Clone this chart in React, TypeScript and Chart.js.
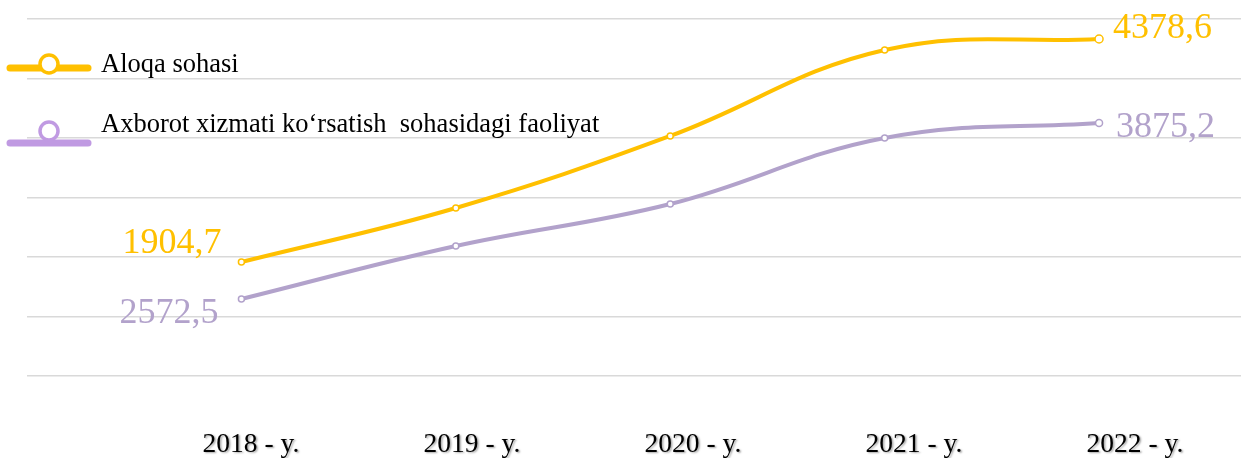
import React, { useEffect, useRef } from "react";
import { Chart, registerables } from "chart.js";

Chart.register(...registerables);

// ---- data ----
const categories = ["2018 - y.", "2019 - y.", "2020 - y.", "2021 - y.", "2022 - y."];
const seriesNames = ["Aloqa sohasi", "Axborot xizmati ko\u2018rsatish  sohasidagi faoliyat"];
const aloqaValues = [958, 1412, 2017, 2740, 2832];
const axborotValues = [647, 1092, 1445, 2000, 2126];
const aloqaEndLabels = ["1904,7", "4378,6"];
const axborotEndLabels = ["2572,5", "3875,2"];
const yMin = 0;
const yMax = 3000;
const yStep = 500;

const SERIF = "'Liberation Serif', 'Times New Roman', serif";
const YELLOW = "#FFC000";
const PURPLE_LINE = "#B2A2CB";
const PURPLE_LEGEND = "#C09AE2";

const legendLayout = [
  { lineY: 68, circleY: 64, textY: 72, color: YELLOW },
  { lineY: 143, circleY: 131, textY: 132, color: PURPLE_LEGEND },
];

const endLabelLayout = [
  {
    color: YELLOW,
    first: { dx: -20, dy: -9, align: "right" as CanvasTextAlign },
    last: { dx: 14, dy: -1, align: "left" as CanvasTextAlign },
  },
  {
    color: PURPLE_LINE,
    first: { dx: -23, dy: 24, align: "right" as CanvasTextAlign },
    last: { dx: 17, dy: 14, align: "left" as CanvasTextAlign },
  },
];

const endLabels = [aloqaEndLabels, axborotEndLabels];

const legendPlugin = {
  id: "customLegend",
  afterDraw(chart: any) {
    const ctx = chart.ctx as CanvasRenderingContext2D;
    chart.data.datasets.forEach((ds: any, i: number) => {
      const l = legendLayout[i];
      if (!l) return;
      ctx.save();
      ctx.strokeStyle = l.color;
      ctx.lineWidth = 7;
      ctx.lineCap = "round";
      ctx.beginPath();
      ctx.moveTo(10, l.lineY);
      ctx.lineTo(88, l.lineY);
      ctx.stroke();
      ctx.beginPath();
      ctx.arc(49, l.circleY, 9, 0, Math.PI * 2);
      ctx.fillStyle = "#ffffff";
      ctx.fill();
      ctx.lineWidth = 3.5;
      ctx.stroke();
      ctx.fillStyle = "#000000";
      ctx.font = `26.5px ${SERIF}`;
      ctx.textAlign = "left";
      ctx.textBaseline = "alphabetic";
      ctx.fillText(ds.label, 101, l.textY);
      ctx.restore();
    });
  },
};

const endLabelPlugin = {
  id: "endLabels",
  afterDatasetsDraw(chart: any) {
    const ctx = chart.ctx as CanvasRenderingContext2D;
    chart.data.datasets.forEach((_ds: any, i: number) => {
      const meta = chart.getDatasetMeta(i);
      const layout = endLabelLayout[i];
      const texts = endLabels[i];
      if (!meta || !layout || !texts) return;
      const pts = meta.data;
      const items = [
        { el: pts[0], cfg: layout.first, text: texts[0] },
        { el: pts[pts.length - 1], cfg: layout.last, text: texts[1] },
      ];
      ctx.save();
      ctx.font = `36px ${SERIF}`;
      ctx.fillStyle = layout.color;
      ctx.textBaseline = "alphabetic";
      items.forEach(({ el, cfg, text }) => {
        if (!el) return;
        ctx.textAlign = cfg.align;
        ctx.fillText(text, el.x + cfg.dx, el.y + cfg.dy);
      });
      ctx.restore();
    });
  },
};

const labelShadowPlugin = {
  id: "labelShadow",
  beforeDraw(chart: any) {
    const sc: any = chart.scales.x2;
    if (sc && !sc.__shadowPatched) {
      const orig = sc.drawLabels.bind(sc);
      sc.drawLabels = (area: any) => {
        const ctx = chart.ctx as CanvasRenderingContext2D;
        ctx.save();
        ctx.shadowColor = "rgba(0,0,0,0.35)";
        ctx.shadowBlur = 2;
        ctx.shadowOffsetX = 1.5;
        ctx.shadowOffsetY = 1.5;
        orig(area);
        ctx.restore();
      };
      sc.__shadowPatched = true;
    }
  },
};

export default function App() {
  const canvasRef = useRef<HTMLCanvasElement | null>(null);

  useEffect(() => {
    document.body.style.margin = "0";
    const canvas = canvasRef.current;
    if (!canvas) return;

    const toPoints = (vals: number[]) => vals.map((v, i) => ({ x: i, y: v }));

    const chart = new Chart(canvas, {
      type: "line",
      data: {
        datasets: [
          {
            label: seriesNames[0],
            data: toPoints(aloqaValues),
            borderColor: YELLOW,
            backgroundColor: "#ffffff",
            borderWidth: 4,
            pointRadius: [3, 3, 3, 3, 4],
            pointBorderWidth: 1.5,
            pointBackgroundColor: "#ffffff",
            pointBorderColor: YELLOW,
            tension: 0.4,
            xAxisID: "x",
            yAxisID: "y",
          },
          {
            label: seriesNames[1],
            data: toPoints(axborotValues),
            borderColor: PURPLE_LINE,
            backgroundColor: "#ffffff",
            borderWidth: 4,
            pointRadius: [3, 3, 3, 3, 3.5],
            pointBorderWidth: 1.5,
            pointBackgroundColor: "#ffffff",
            pointBorderColor: PURPLE_LINE,
            tension: 0.4,
            xAxisID: "x",
            yAxisID: "y",
          },
        ],
      },
      options: {
        responsive: false,
        animation: false,
        devicePixelRatio: 1,
        layout: { autoPadding: false, padding: { left: 27, right: 0, top: 19, bottom: 0 } },
        plugins: {
          legend: { display: false },
          tooltip: { enabled: false },
        },
        scales: {
          x: {
            type: "linear",
            display: false,
            min: -1,
            max: 4.662,
          },
          x2: {
            type: "linear",
            position: "bottom",
            min: -1.0136,
            max: 4.48,
            afterBuildTicks: (scale: any) => {
              scale.ticks = categories.map((_c, i) => ({ value: i }));
            },
            afterFit: (scale: any) => {
              scale.height = 82;
              scale.paddingLeft = 0;
              scale.paddingRight = 0;
            },
            grid: { display: false, drawTicks: false },
            border: { display: false },
            ticks: {
              autoSkip: false,
              maxRotation: 0,
              minRotation: 0,
              padding: 52,
              color: "#000000",
              font: { family: SERIF, size: 27.5 },
              callback: (v: any) => categories[Math.round(Number(v))] ?? "",
            },
          },
          y: {
            type: "linear",
            min: yMin,
            max: yMax,
            afterFit: (scale: any) => {
              scale.width = 0;
              scale.paddingTop = 0;
              scale.paddingBottom = 0;
            },
            ticks: { display: false, stepSize: yStep },
            border: { display: false },
            grid: { color: "#D9D9D9", lineWidth: 1.5, drawTicks: false },
          },
        },
      } as any,
      plugins: [legendPlugin, endLabelPlugin, labelShadowPlugin],
    });

    return () => {
      chart.destroy();
    };
  }, []);

  return (
    <div style={{ width: 1241, height: 458, position: "relative", background: "#ffffff" }}>
      <canvas ref={canvasRef} width={1241} height={458} style={{ display: "block" }} />
    </div>
  );
}
